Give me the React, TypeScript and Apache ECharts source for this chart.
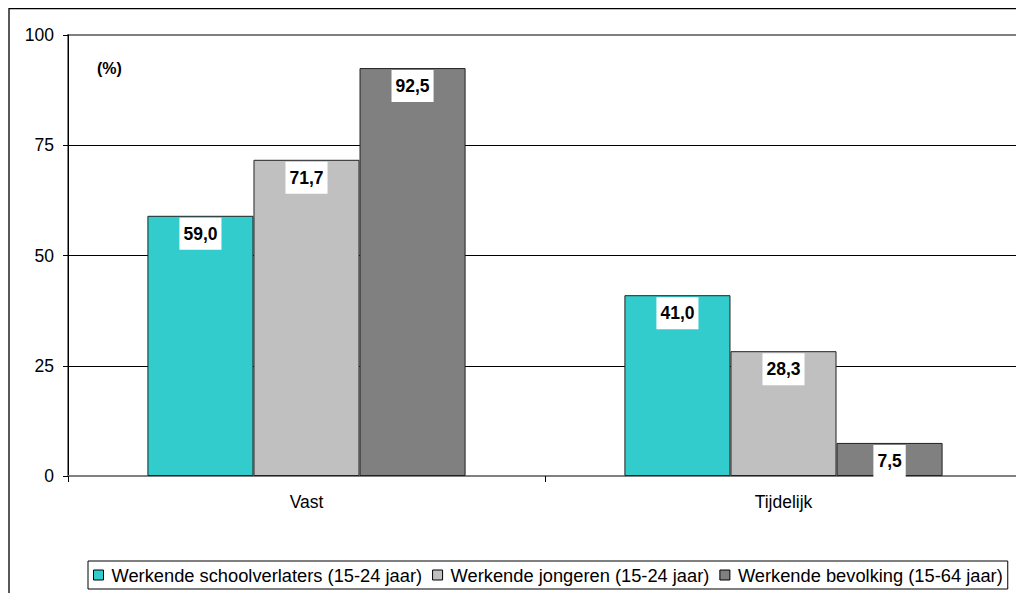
import React, { useEffect, useRef } from "react";
import * as echarts from "echarts";

const categories = ["Vast", "Tijdelijk"];
const seriesNames = [
  "Werkende schoolverlaters (15-24 jaar)",
  "Werkende jongeren (15-24 jaar)",
  "Werkende bevolking (15-64 jaar)",
];
const schoolverlaters = [59.0, 41.0];
const jongeren = [71.7, 28.3];
const bevolking = [92.5, 7.5];
const seriesColors = ["#33CCCC", "#C0C0C0", "#808080"];
const yTicks = { min: 0, max: 100, interval: 25 };

const FONT = '"Liberation Sans", Arial, sans-serif';

export default function App() {
  const ref = useRef<HTMLDivElement>(null);
  useEffect(() => {
    if (!ref.current) return;
    const chart = echarts.init(ref.current, null, { renderer: "svg" });
    const values = [schoolverlaters, jongeren, bevolking];
    const option: any = {
      animation: false,
      backgroundColor: "#fff",
      textStyle: { fontFamily: FONT },
      grid: {
        left: 60,
        top: 27,
        right: 2,
        bottom: 117,
        show: true,
        borderColor: "#808080",
        borderWidth: 2,
        backgroundColor: "transparent",
      },
      legend: {
        left: 80,
        top: 553,
        orient: "horizontal",
        icon: "rect",
        itemWidth: 10,
        itemHeight: 10,
        itemGap: 10,
        padding: [5, 5, 5, 5],
        borderColor: "#000",
        borderWidth: 1,
        itemStyle: { borderColor: "#000", borderWidth: 1 },
        textStyle: {
          fontFamily: FONT,
          fontSize: 18.3,
          color: "#000",
          padding: [0, 0, 0, 3],
        },
        data: seriesNames,
      },
      xAxis: {
        type: "category",
        data: categories,
        boundaryGap: true,
        axisLine: { show: true, lineStyle: { color: "#808080", width: 2 } },
        axisTick: {
          show: true,
          length: 6,
          lineStyle: { color: "#000", width: 1 },
        },
        axisLabel: {
          fontFamily: FONT,
          fontSize: 17.5,
          color: "#000",
          margin: 17,
        },
        splitLine: { show: false },
      },
      yAxis: {
        type: "value",
        min: yTicks.min,
        max: yTicks.max,
        interval: yTicks.interval,
        axisLine: { show: true, lineStyle: { color: "#000", width: 1 } },
        axisTick: { show: true, length: 5, lineStyle: { color: "#000" } },
        axisLabel: {
          fontFamily: FONT,
          fontSize: 17.5,
          color: "#000",
          margin: 14,
        },
        splitLine: {
          show: true,
          showMinLine: false,
          showMaxLine: false,
          lineStyle: { color: "#000", width: 1 },
        },
      },
      graphic: [
        {
          type: "rect",
          silent: true,
          z: 100,
          shape: { x: 1, y: 0.6, width: 3000, height: 3000 },
          style: { fill: "none", stroke: "#000", lineWidth: 1.3 },
        },
        {
          type: "text",
          x: 89,
          y: 60,
          z: 100,
          style: {
            text: "(%)",
            font: `bold 16px ${FONT}`,
            fill: "#000",
            verticalAlign: "middle",
          },
        },
      ],
      series: seriesNames.map((name, i) => ({
        name,
        type: "bar",
        data: values[i],
        barGap: "0%",
        barCategoryGap: "33.3%",
        itemStyle: {
          color: seriesColors[i],
          borderColor: "#222",
          borderWidth: 1,
        },
        label: {
          show: true,
          position: "insideTop",
          distance: 2,
          formatter: (p: any) => p.value.toFixed(1).replace(".", ","),
          fontFamily: FONT,
          fontWeight: "bold",
          fontSize: 17.5,
          color: "#000",
          backgroundColor: "#fff",
          padding: [7, 4, 7, 4],
        },
      })),
    };
    chart.setOption(option);
    return () => chart.dispose();
  }, []);
  return <div ref={ref} style={{ width: 1016, height: 585 }} />;
}
